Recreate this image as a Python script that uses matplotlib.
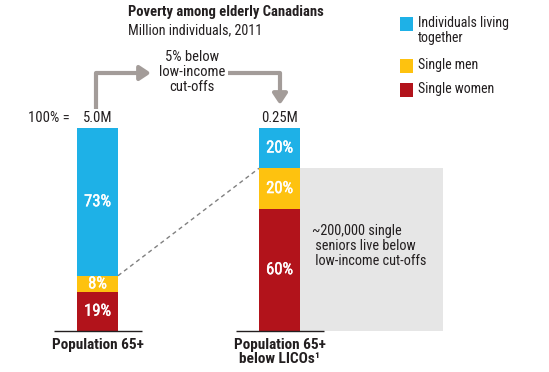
import matplotlib
matplotlib.use("Agg")
import matplotlib.pyplot as plt
import matplotlib.patheffects as pe
from matplotlib.patches import Rectangle, FancyArrowPatch
from matplotlib.path import Path

# ---- data ----
categories = ["Population 65+", "Population 65+\nbelow LICOs\u00b9"]
totals = ["5.0M", "0.25M"]
series_names = ["Individuals living\ntogether", "Single men", "Single women"]
together = [73, 20]
single_men = [8, 20]
single_women = [19, 60]
arrow_note = "5% below\nlow-income\ncut-offs"
box_note = "~200,000 single\n seniors live below\n low-income cut-offs"

# ---- style ----
BLUE = "#1eb1e7"
YELLOW = "#fec20f"
RED = "#b2131b"
GREY_BOX = "#e6e6e6"
ARROW = "#a39c99"
TXT = "#231f20"
plt.rcParams["font.family"] = ["Roboto Condensed", "DejaVu Sans"]

W, H = 549, 372
fig = plt.figure(figsize=(W / 100, H / 100), dpi=100)
ax = fig.add_axes([0, 0, 1, 1])

# pixel mapping for bar axes
x0_px, unit_px = 97.5, 182.0
y0_px, y100_px = 330.5, 127.7
ppu_y = (y0_px - y100_px) / 100.0
ax.set_xlim(-x0_px / unit_px, (W - x0_px) / unit_px)
ax.set_ylim(-(H - y0_px) / ppu_y, 100 + y100_px / ppu_y)
ax.axis("off")

xs = [0, 1]
bw = 41 / unit_px

# grey box behind bar 2 single segment
box_top = single_women[1] + single_men[1]
box_right = (443 - x0_px) / unit_px
ax.add_patch(Rectangle((1 + bw / 2, 0), box_right - (1 + bw / 2), box_top,
                       facecolor=GREY_BOX, edgecolor="none", zorder=0))

b_red = ax.bar(xs, single_women, width=bw, color=RED, zorder=2)
b_yel = ax.bar(xs, single_men, width=bw, bottom=single_women, color=YELLOW, zorder=2)
bot3 = [a + b for a, b in zip(single_women, single_men)]
b_blu = ax.bar(xs, together, width=bw, bottom=bot3, color=BLUE, zorder=2)

semi_bold = [pe.withStroke(linewidth=0.3, foreground="white")]
for bars, vals, bots in [(b_red, single_women, [0, 0]), (b_yel, single_men, single_women),
                         (b_blu, together, bot3)]:
    for x, v, b in zip(xs, vals, bots):
        ax.text(x, b + v / 2, f"{v}%", ha="center", va="center", color="white",
                fontsize=12, zorder=3, path_effects=semi_bold)

# baselines
for x in xs:
    ax.plot([x - 44 / unit_px, x + 44 / unit_px], [0, 0], color=TXT, lw=1.0, zorder=3,
            solid_capstyle="butt")

# dashed connector
ax.plot([0 + bw / 2, 1 - bw / 2], [bot3[0], bot3[1]], color="#808080", lw=1.0,
        ls=(0, (3, 2.5)), zorder=1)

# totals above bars
for x, t in zip(xs, totals):
    ax.text(x, 100 + 9.5 / ppu_y, t, ha="center", va="center", color=TXT, fontsize=10.5)
ax.text(-0.5 * bw - 7 / unit_px, 100 + 9.5 / ppu_y, "100% =", ha="right", va="center",
        color=TXT, fontsize=10.5)

# category labels
ax.text(0, -7.5 / ppu_y, categories[0], ha="center", va="top", color=TXT,
        fontsize=11, fontweight="bold", linespacing=1.0)
ax.text(1, -7.5 / ppu_y, categories[1], ha="center", va="top", color=TXT,
        fontsize=11, fontweight="bold", linespacing=1.0)

# ---- overlay in pixel coords for annotations ----
ov = fig.add_axes([0, 0, 1, 1])
ov.set_xlim(0, W)
ov.set_ylim(H, 0)
ov.axis("off")
ov.patch.set_alpha(0)

ov.text(128, 12, "Poverty among elderly Canadians", fontsize=10.5, fontweight="bold",
        color=TXT, va="center", ha="left")
ov.text(128, 30.5, "Million individuals, 2011", fontsize=10.2, color=TXT, va="center",
        ha="left")

# legend
leg_colors = [BLUE, YELLOW, RED]
leg_y = [24, 66, 90]
for c, y, name in zip(leg_colors, leg_y, series_names):
    ov.add_patch(Rectangle((399.5, y - 6.7), 13.5, 13.5, facecolor=c, edgecolor="none"))
    ov.text(418, y - 7.8, name, fontsize=10, color=TXT, va="top", ha="left",
            linespacing=1.1)

# arrows
def arrow(pts):
    p = Path(pts, [Path.MOVETO] + [Path.LINETO] * (len(pts) - 1))
    a = FancyArrowPatch(path=p, arrowstyle="-|>,head_length=6.5,head_width=4.3",
                        mutation_scale=1, color=ARROW, lw=3, joinstyle="round",
                        capstyle="butt", transform=ov.transData)
    ov.add_patch(a)

arrow([(95.5, 109), (95.5, 73), (151, 73)])
arrow([(228, 73), (280, 73), (280, 105)])
ov.text(192, 72, arrow_note, fontsize=10.5, color=TXT, ha="center", va="center",
        linespacing=1.05)

ov.text(311.5, 246, box_note, fontsize=10.3, color=TXT, ha="left", va="center",
        linespacing=1.05)

fig.savefig("out.png", dpi=100)
